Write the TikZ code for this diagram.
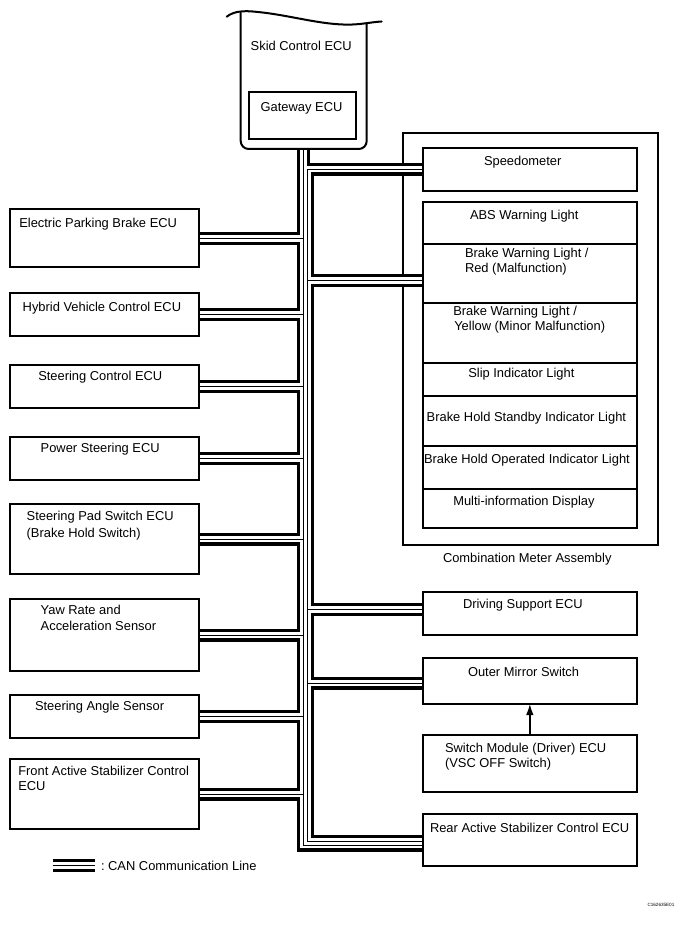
\documentclass[tikz,border=0pt]{standalone}
\usepackage{fontspec}
\setmainfont{Liberation Sans}
\usetikzlibrary{arrows.meta,calc}
\pgfdeclarelayer{bg}\pgfdeclarelayer{bus}
\pgfsetlayers{bg,bus,main}
\newcommand\bx[5]{\node[box, minimum width=#4pt, minimum height=#5pt] (#1) at (#2,#3) {};}
\newcommand\canpaths[1]{%
  \draw[#1] (skid.south) -- (skid.south |- rearL) -- (rearL);
  \draw[#1] (spd.west) -- (spd.west -| trR) -- (trR |- rearR) -- (rearR);
  \foreach \nm in {epb,hv,sc,ps,sp,yaw,sa,fa} {\draw[#1] (\nm.east) -- (\nm.east -| skid.south);}
  \draw[#1] (bwrIn) -- (bwrIn -| trR);
  \draw[#1] (drvIn) -- (drvIn -| trR);
  \draw[#1] (mirIn) -- (mirIn -| trR);
}
\begin{document}
\begin{tikzpicture}[x=1pt,y=-1pt,
  every node/.style={inner sep=0pt, outer sep=0pt, font=\fontsize{12.9}{15}\selectfont},
  box/.style={draw, line width=1.9pt, anchor=north west},
  lbl/.style={anchor=base west},
  can1/.style={line width=13pt, line join=miter},
  can2/.style={line width=6.6pt, white, line join=miter},
  can3/.style={line width=0.8pt, line join=miter},
  ecu/.style={line width=2pt, line cap=round},
  arr/.style={line width=1.3pt, -{Latex[length=11pt,width=7.5pt]}}]
\useasboundingbox (0,0) rectangle (680,925);

% Skid Control ECU
\node[minimum width=126pt, minimum height=137pt, anchor=south west] (skid) at (240.7,149) {};
\draw[ecu] (226.7,16.7) .. controls (234,11) and (244,10.5) .. (256,11.8)
  .. controls (290,15) and (320,25) .. (350,24.6) .. controls (362,24.4) and (372,22) .. (381.7,21.5);
\draw[ecu, rounded corners=8pt] (240.7,12.6) -- (skid.south west) -- (skid.south east) -- (366.7,23.8);
\node[lbl] (t-skid) at (250.7,51) {Skid Control ECU};
\bx{gw}{249}{91.7}{107}{47.3}
\node[lbl] (t-gw) at (260.7,111.7) {Gateway ECU};

% left boxes
\bx{epb}{10}{209.3}{189}{58}
\bx{hv}{10}{293.3}{189}{42.4}
\bx{sc}{10}{365}{189}{43.3}
\bx{ps}{10}{437.3}{189}{42.7}
\bx{sp}{10}{504}{189}{70.3}
\bx{yaw}{10}{599}{189}{72}
\bx{sa}{10}{695}{189}{43.3}
\bx{fa}{10}{759}{189}{70.3}
\node[lbl] (t-epb) at (19.3,227) {Electric Parking Brake ECU};
\node[lbl] (t-hv) at (22.7,311.7) {Hybrid Vehicle Control ECU};
\node[lbl] (t-sc) at (38.3,380.7) {Steering Control ECU};
\node[lbl] (t-ps) at (40.7,452.7) {Power Steering ECU};
\node[lbl] (t-sp1) at (26.7,520.5) {Steering Pad Switch ECU};
\node[lbl] (t-sp2) at (26.7,537) {(Brake Hold Switch)};
\node[lbl] (t-yaw1) at (40.7,614) {Yaw Rate and};
\node[lbl] (t-yaw2) at (40.7,630) {Acceleration Sensor};
\node[lbl] (t-sa) at (35,710) {Steering Angle Sensor};
\node[lbl] (t-fa1) at (18.3,775.7) {Front Active Stabilizer Control};
\node[lbl] (t-fa2) at (18.3,790.7) {ECU};

% combination meter
\begin{pgfonlayer}{bg}
\node[box, minimum width=255pt, minimum height=412.3pt] (cma) at (402.7,132.7) {};
\end{pgfonlayer}
\node[lbl] (t-cma) at (443,562) {Combination Meter Assembly};
\bx{spd}{422.7}{147.7}{214.3}{43}
\bx{abs}{422.7}{201.7}{214.3}{42.3}
\bx{bwr}{422.7}{244}{214.3}{58.7}
\bx{bwy}{422.7}{302.7}{214.3}{60.6}
\bx{slip}{422.7}{363.3}{214.3}{32.7}
\bx{bhs}{422.7}{396}{214.3}{49.7}
\bx{bho}{422.7}{445.7}{214.3}{43.6}
\bx{mid}{422.7}{489.3}{214.3}{39}
\node[lbl] (t-spd) at (484,165.5) {Speedometer};
\node[lbl] (t-abs) at (470,219.5) {ABS Warning Light};
\node[lbl] (t-bwr1) at (465,257.5) {Brake Warning Light /};
\node[lbl] (t-bwr2) at (465,272.5) {Red (Malfunction)};
\node[lbl] (t-bwy1) at (453.3,315.5) {Brake Warning Light /};
\node[lbl] (t-bwy2) at (454.3,330.5) {Yellow (Minor Malfunction)};
\node[lbl] (t-slip) at (468.3,377) {Slip Indicator Light};
\node[lbl] (t-bhs) at (426.7,421.5) {Brake Hold Standby Indicator Light};
\node[lbl] (t-bho) at (424,463.5) {Brake Hold Operated Indicator Light};
\node[lbl] (t-mid) at (453.3,505) {Multi-information Display};

% lower right boxes
\bx{drv}{422.7}{592}{214.3}{43}
\bx{mir}{422.7}{658}{214.3}{46}
\bx{swm}{422.7}{735}{214.3}{56.7}
\bx{rear}{423}{814.3}{214}{51.7}
\node[lbl] (t-drv) at (463,608.5) {Driving Support ECU};
\node[lbl] (t-mir) at (468,676.5) {Outer Mirror Switch};
\node[lbl] (t-swm1) at (445,752.5) {Switch Module (Driver) ECU};
\node[lbl] (t-swm2) at (445,767.5) {(VSC OFF Switch)};
\node[lbl] (t-rear) at (430,832.5) {Rear Active Stabilizer Control ECU};
\draw[arr] (swm.north) -- (mir.south);

% CAN bus
\coordinate (trR) at ([xshift=3.5pt]skid.south);
\coordinate (rearL) at ([yshift=-5pt]rear.west);
\coordinate (rearR) at ([yshift=-1.5pt]rear.west);
\coordinate (bwrIn) at ([yshift=-7.2pt]bwr.west);
\coordinate (drvIn) at ([yshift=4pt]drv.west);
\coordinate (mirIn) at ([yshift=-2pt]mir.west);
\begin{pgfonlayer}{bus}
\canpaths{can1}
\canpaths{can2}
\canpaths{can3}
\end{pgfonlayer}

% legend
\coordinate (lg1) at (52.7,865.3);
\coordinate (lg2) at (95,865.3);
\draw[can1] (lg1) -- (lg2);
\draw[can2] (lg1) -- (lg2);
\draw[can3] (lg1) -- (lg2);
\node[lbl] (t-lg) at (101,870) {:\ CAN Communication Line};
\node[lbl, font=\fontsize{4.6}{5}\selectfont] (t-id) at (647.5,906) {C162635E01};
\end{tikzpicture}
\end{document}
